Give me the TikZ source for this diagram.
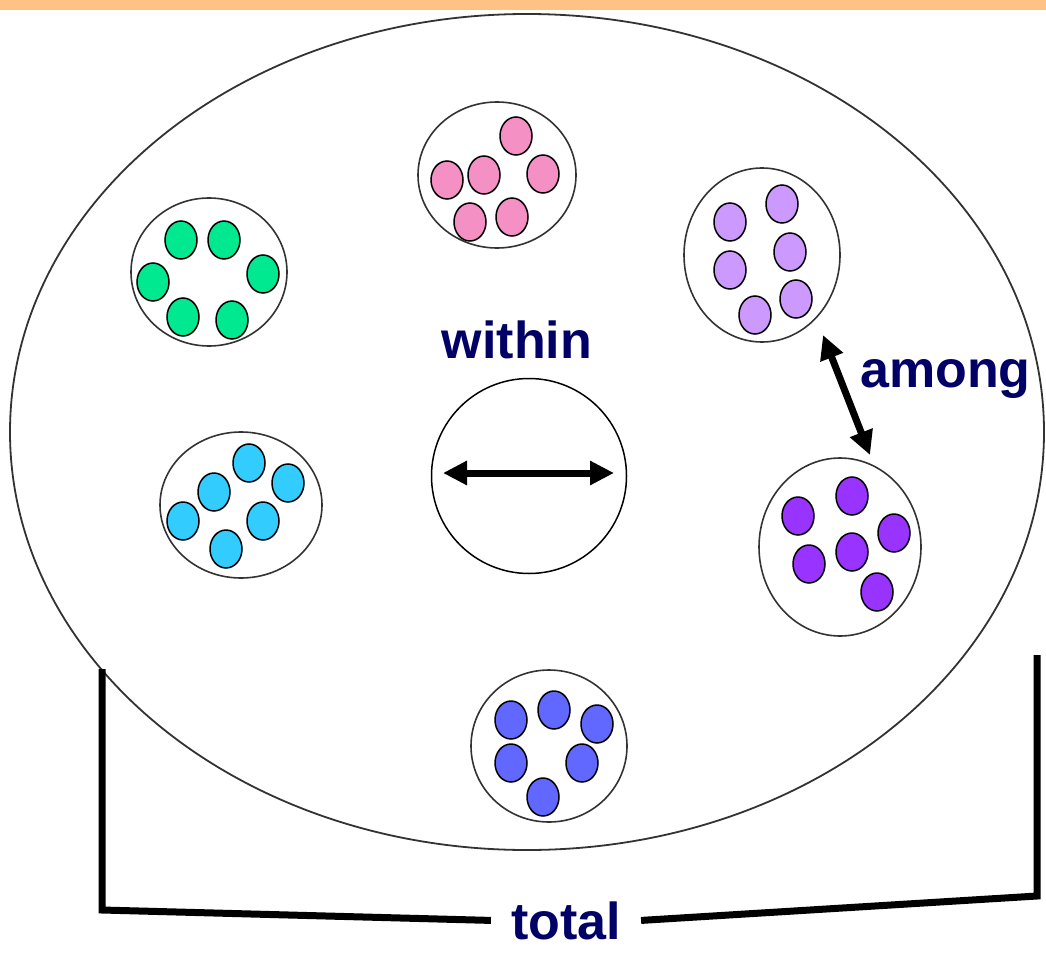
\documentclass[tikz,border=0pt]{standalone}
\usepackage{fontspec}
\setmainfont{Liberation Sans}
\usetikzlibrary{shapes.geometric,arrows.meta}

\definecolor{topbar}{HTML}{FFC285}
\definecolor{navy}{HTML}{000066}
\definecolor{ringgray}{HTML}{333333}
\definecolor{cpink}{HTML}{F590C4}
\definecolor{cgreen}{HTML}{00E890}
\definecolor{clilac}{HTML}{CC99FF}
\definecolor{ccyan}{HTML}{33CCFF}
\definecolor{cpurple}{HTML}{9933FF}
\definecolor{cblue}{HTML}{6068FF}

\tikzset{
  group/.style={ellipse, draw=ringgray, line width=1.6pt, inner sep=0pt, fill=white},
  dotfill/.style={fill=#1, draw=black, line width=1.5pt},
  label/.style={font=\fontsize{52}{52}\selectfont\bfseries, text=navy, inner sep=0pt},
  bigarrow/.style={line width=7pt, -{Triangle[length=24pt,width=23pt]}},
  bracket/.style={line width=7pt, line join=miter}
}

\begin{document}
\begin{tikzpicture}[x=1pt,y=-1pt]
  \useasboundingbox (0,0) rectangle (1046,979);
  \fill[white] (0,0) rectangle (1046,979);

  % header strip
  \fill[topbar] (0,0) rectangle (1046,10);

  % whole population
  \node[ellipse, draw=ringgray, line width=1.8pt, minimum width=1034pt, minimum height=836pt, inner sep=0pt] (pop) at (527,432) {};

  % sub-populations
  \node[group, minimum width=158pt, minimum height=146pt] (pink)   at (497,175) {};
  \node[group, minimum width=156pt, minimum height=148pt] (green)  at (209,272) {};
  \node[group, minimum width=156pt, minimum height=174pt] (lilac)  at (762,255) {};
  \node[group, minimum width=162pt, minimum height=146pt] (cyan)   at (241,505) {};
  \node[group, minimum width=162pt, minimum height=178pt] (purple) at (840,547) {};
  \node[group, minimum width=156pt, minimum height=152pt] (blue)   at (549,746) {};

  % individuals
  \foreach \p in {(516,136),(447,180),(484,175),(543,174),(470,222),(512,217)}
    \draw[dotfill=cpink] \p ellipse [x radius=16pt, y radius=19pt];
  \foreach \p in {(181,240),(224,240),(153,282),(263,274),(183,317),(232,320)}
    \draw[dotfill=cgreen] \p ellipse [x radius=16pt, y radius=19pt];
  \foreach \p in {(782,204),(730,222),(790,252),(730,270),(796,299),(755,315)}
    \draw[dotfill=clilac] \p ellipse [x radius=16pt, y radius=19pt];
  \foreach \p in {(249,463),(288,483),(214,492),(263,521),(183,521),(226,549)}
    \draw[dotfill=ccyan] \p ellipse [x radius=16pt, y radius=19pt];
  \foreach \p in {(852,496),(798,516),(894,533),(852,552),(809,564),(877,592)}
    \draw[dotfill=cpurple] \p ellipse [x radius=16pt, y radius=19pt];
  \foreach \p in {(554,710),(511,720),(597,724),(511,763),(582,763),(543,797)}
    \draw[dotfill=cblue] \p ellipse [x radius=16pt, y radius=19pt];

  % within-group variation
  \node[circle, draw=black, line width=1.5pt, minimum size=195pt, inner sep=0pt, fill=white] (single) at (529,476) {};
  \coordinate (wl) at (443,473);
  \coordinate (wr) at (614,473);
  \draw[bigarrow, {Triangle[length=24pt,width=23pt]}-{Triangle[length=24pt,width=23pt]}] (wl) -- (wr);
  \node[label, anchor=base] (within) at (517,358) {within};

  % among-group variation
  \coordinate (al) at (823,335);
  \coordinate (ar) at (870,455);
  \draw[bigarrow, {Triangle[length=24pt,width=23pt]}-{Triangle[length=24pt,width=23pt]}] (al) -- (ar);
  \node[label, anchor=base west] (among) at (860,387) {among};

  % total variation bracket
  \node[label, anchor=base, inner xsep=20pt] (total) at (566,939) {total};
  \coordinate (lt) at (102,669);
  \coordinate (lb) at (102,910);
  \coordinate (rt) at (1037,655);
  \coordinate (rb) at (1037,896);
  \draw[bracket] (lt) -- (lb) -- (total.west);
  \draw[bracket] (rt) -- (rb) -- (total.east);
\end{tikzpicture}
\end{document}
